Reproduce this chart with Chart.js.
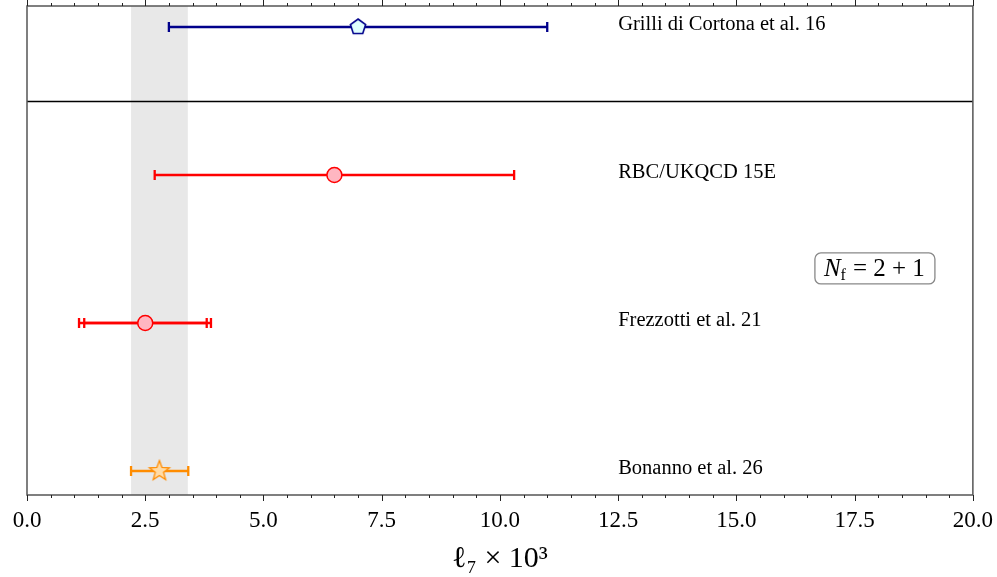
<!DOCTYPE html>
<html>
<head>
<meta charset="utf-8">
<script src="https://cdn.jsdelivr.net/npm/chart.js@4"></script>
<style>
  html, body { margin: 0; padding: 0; background: #fff; }
  canvas { display: block; }
</style>
</head>
<body>
<canvas id="l7Chart" width="997" height="577"></canvas>
<script>
// data (x in units of 10^-3)
const rowLabels = ['Bonanno et al. 26', 'Frezzotti et al. 21', 'RBC/UKQCD 15E', 'Grilli di Cortona et al. 16'];
const centralValues = [2.80, 2.50, 6.50, 7.00];
const errLow = [0.60, 1.40, 3.80, 4.00];
const errHigh = [0.61, 1.39, 3.80, 4.00];
const innerErrLow = [null, 1.29, null, null];
const innerErrHigh = [null, 1.30, null, null];
const bandRange = [2.20, 3.40];
const separatorAt = 2.5;
const xTicks = [0, 2.5, 5, 7.5, 10, 12.5, 15, 17.5, 20];

const lineColors = ['#ff8c00', '#ff0000', '#ff0000', '#00008b'];
const fillColors = ['#ffdca8', '#ffb6c1', '#ffb6c1', '#e0ffff'];

const serif = "'Liberation Serif', 'DejaVu Serif', serif";

// where the plot frame should sit on the canvas
const AREA = { left: 27, top: 6, right: 973, bottom: 495 };

function makeMarker(kind, R, fill, stroke, lw) {
    const c = document.createElement('canvas');
    const s = Math.ceil(2 * (R + lw)) + 2;
    c.width = s; c.height = s;
    const g = c.getContext('2d');
    const cx = s / 2, cy = s / 2;
    g.beginPath();
    if (kind === 'pentagon') {
        for (let k = 0; k < 5; k++) {
            const a = -Math.PI / 2 + k * 2 * Math.PI / 5;
            g.lineTo(cx + R * Math.cos(a), cy + R * Math.sin(a));
        }
    } else {
        const r = R * 0.42;
        for (let k = 0; k < 10; k++) {
            const a = -Math.PI / 2 + k * Math.PI / 5;
            const rr = k % 2 === 0 ? R : r;
            g.lineTo(cx + rr * Math.cos(a), cy + rr * Math.sin(a));
        }
    }
    g.closePath();
    g.fillStyle = fill;
    g.fill();
    g.lineWidth = lw;
    g.lineJoin = 'miter';
    g.strokeStyle = stroke;
    g.stroke();
    return c;
}

const starMarker = makeMarker('star', 10.5, fillColors[0], lineColors[0], 1.3);
const pentagonMarker = makeMarker('pentagon', 8, fillColors[3], lineColors[3], 1.6);

const extrasPlugin = {
    id: 'extras',
    beforeDatasetsDraw(chart) {
        const { ctx, chartArea: a, scales: { x, y } } = chart;
        ctx.save();
        // grey band
        ctx.fillStyle = '#e8e8e8';
        ctx.fillRect(x.getPixelForValue(bandRange[0]), a.top,
            x.getPixelForValue(bandRange[1]) - x.getPixelForValue(bandRange[0]), a.bottom - a.top);
        // separator
        ctx.strokeStyle = '#000';
        ctx.lineWidth = 1.3;
        const sy = Math.round(y.getPixelForValue(separatorAt)) + 0.5;
        ctx.beginPath();
        ctx.moveTo(a.left, sy); ctx.lineTo(a.right, sy);
        ctx.stroke();
        // error bars
        const cap = 5;
        const bar = (lo, hi, py, col) => {
            const x0 = x.getPixelForValue(lo), x1 = x.getPixelForValue(hi);
            ctx.strokeStyle = col;
            ctx.lineWidth = 2.3;
            ctx.beginPath();
            ctx.moveTo(x0, py); ctx.lineTo(x1, py);
            ctx.moveTo(x0, py - cap); ctx.lineTo(x0, py + cap);
            ctx.moveTo(x1, py - cap); ctx.lineTo(x1, py + cap);
            ctx.stroke();
        };
        centralValues.forEach((v, i) => {
            const py = Math.round(y.getPixelForValue(i));
            bar(v - errLow[i], v + errHigh[i], py, lineColors[i]);
            if (innerErrLow[i] !== null) {
                bar(v - innerErrLow[i], v + innerErrHigh[i], py, lineColors[i]);
            }
        });
        ctx.restore();
    },
    afterDraw(chart) {
        const { ctx, chartArea: a, scales: { x, y } } = chart;
        ctx.save();
        // frame
        ctx.strokeStyle = '#555';
        ctx.lineWidth = 1.5;
        ctx.strokeRect(a.left, a.top, a.right - a.left, a.bottom - a.top);
        // ticks top and bottom, outward
        ctx.strokeStyle = '#222';
        ctx.lineWidth = 1;
        for (let k = 0; k <= 40; k++) {
            const v = k * 0.5;
            const px = Math.round(x.getPixelForValue(v)) + 0.5;
            const len = k % 5 === 0 ? 6 : 3;
            ctx.beginPath();
            ctx.moveTo(px, a.bottom); ctx.lineTo(px, a.bottom + len);
            ctx.moveTo(px, a.top); ctx.lineTo(px, a.top - len);
            ctx.stroke();
        }
        // row labels
        ctx.fillStyle = '#000';
        ctx.font = '20.5px ' + serif;
        ctx.textBaseline = 'middle';
        ctx.textAlign = 'left';
        rowLabels.forEach((t, i) => {
            ctx.fillText(t, x.getPixelForValue(12.5), y.getPixelForValue(i) - 2);
        });
        // N_f box
        const bx = a.left + 0.833 * (a.right - a.left);
        const by = a.top + 0.505 * (a.bottom - a.top);
        const bw = 120, bh = 31;
        ctx.strokeStyle = '#888';
        ctx.lineWidth = 1.3;
        ctx.fillStyle = '#fff';
        ctx.beginPath();
        ctx.roundRect(bx, by, bw, bh, 6);
        ctx.fill();
        ctx.stroke();
        ctx.fillStyle = '#000';
        ctx.textBaseline = 'alphabetic';
        let tx = bx + 9;
        const base = by + 23;
        ctx.font = 'italic 25px ' + serif;
        ctx.fillText('N', tx, base);
        tx += ctx.measureText('N').width;
        ctx.font = '16px ' + serif;
        ctx.fillText('f', tx, base + 4);
        tx += ctx.measureText('f').width + 7;
        ctx.font = '25px ' + serif;
        ctx.fillText('= 2 + 1', tx, base);
        ctx.restore();
    }
};

const chart = new Chart(document.getElementById('l7Chart').getContext('2d'), {
    type: 'scatter',
    data: {
        datasets: [{
            data: centralValues.map((v, i) => ({ x: v, y: i })),
            pointStyle: [starMarker, 'circle', 'circle', pentagonMarker],
            pointRadius: 7.5,
            pointHoverRadius: 7.5,
            backgroundColor: fillColors,
            borderColor: lineColors,
            borderWidth: 1.5
        }]
    },
    options: {
        responsive: false,
        animation: false,
        layout: { autoPadding: false, padding: { left: 27, right: 24, top: 6, bottom: 2 } },
        plugins: {
            legend: { display: false },
            tooltip: { enabled: false }
        },
        scales: {
            x: {
                type: 'linear',
                min: 0,
                max: 20,
                afterBuildTicks: axis => { axis.ticks = xTicks.map(v => ({ value: v })); },
                ticks: {
                    callback: v => Number(v).toFixed(1),
                    color: '#000',
                    padding: 4,
                    font: { family: serif, size: 23 }
                },
                grid: { display: true, drawOnChartArea: false, drawTicks: true, tickLength: 8, color: 'rgba(0,0,0,0)' },
                border: { display: false },
                title: {
                    display: true,
                    text: 'ℓ₇ × 10³',
                    color: '#000',
                    font: { family: serif, size: 30 },
                    padding: { top: 3, bottom: 0 }
                }
            },
            y: {
                type: 'linear',
                display: false,
                min: -0.162,
                max: 3.142
            }
        }
    },
    plugins: [extrasPlugin]
});

// nudge the layout padding so the frame lands where the reference has it
for (let k = 0; k < 3; k++) {
    const a = chart.chartArea;
    const p = chart.options.layout.padding;
    p.top += AREA.top - a.top;
    p.left += AREA.left - a.left;
    p.right += a.right - AREA.right;
    p.bottom += a.bottom - AREA.bottom;
    chart.update();
}
</script>
</body>
</html>
